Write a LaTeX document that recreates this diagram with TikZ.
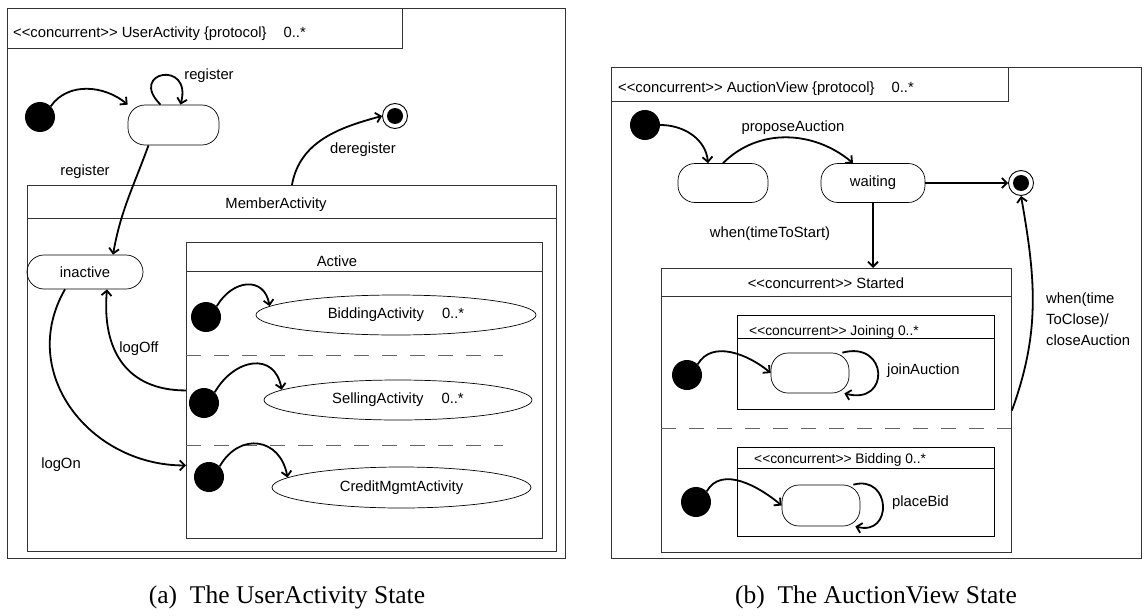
\documentclass[tikz,border=0pt]{standalone}
\usepackage{fontspec}
\newfontfamily\umlfont{Liberation Sans}
\newfontfamily\capfont{Liberation Serif}
\usetikzlibrary{arrows.meta,shapes.geometric,positioning}

\begin{document}
\begin{tikzpicture}[
	x=1pt, y=-1pt,
	every node/.style={font=\umlfont\fontsize{14.8}{17}\selectfont},
	compbox/.style={draw=black!80, line width=0.9pt, inner sep=0pt},
	simple/.style={draw, line width=0.7pt, rounded corners=17pt, inner sep=0pt},
	activity/.style={ellipse, draw, line width=0.7pt, inner sep=0pt},
	startdot/.style={circle, fill=black, minimum size=30pt, inner sep=0pt},
	enddot/.style={circle, draw, line width=0.9pt, fill=white,
		minimum size=25pt, inner sep=0pt,
		path picture={\fill[black] (path picture bounding box.center) circle (8pt);}},
	trans/.style={line width=1.8pt, -{Straight Barb[length=5pt,width=10pt]}},
	region/.style={draw=black!60, line width=0.9pt, dash pattern=on 15pt off 13pt},
	lbl/.style={inner sep=1pt},
	subtitle/.style={lbl, font=\umlfont\fontsize{13.8}{16}\selectfont},
	subcap/.style={font=\capfont\fontsize{25.5}{30}\selectfont}
]
\useasboundingbox (0,0) rectangle (1147,615);

% UserActivity box
\node[compbox, anchor=north west, minimum width=558, minimum height=550] (ua) at (7,8) {};
\node[compbox, anchor=north west, minimum width=395, minimum height=40] (uatitle) at (7,8) {};
\node[lbl, anchor=base west] (uaname) at (12,38)
	{<{}<concurrent>{}> UserActivity \{protocol\}\hspace{17pt}0..*};

\node[startdot] (ui) at (40,117) {};
\node[simple, minimum width=91, minimum height=40] (unreg) at (173.5,125) {};
\node[enddot] (uf) at (395,116) {};

% MemberActivity box
\node[compbox, anchor=north west, minimum width=529, minimum height=366] (ma) at (27,185) {};
\draw[compbox] ([yshift=-33pt]ma.north west) -- ([yshift=-33pt]ma.north east);
\node[lbl] (maname) at (276,205) {MemberActivity};
\node[simple, minimum width=116, minimum height=34] (inact) at (85,272) {inactive};

% Active box
\node[compbox, anchor=north west, minimum width=356, minimum height=296] (act) at (186,242) {};
\draw[compbox] ([yshift=-29pt]act.north west) -- ([yshift=-29pt]act.north east);
\node[lbl] (actname) at (337,261) {Active};
\coordinate (d1) at (503,355);
\coordinate (d2) at (503,445);
\draw[region] (act.west |- d1) -- (d1);
\draw[region] (act.west |- d2) -- (d2);

\node[startdot] (bidi) at (206,317) {};
\node[activity, minimum width=280, minimum height=40] (bid) at (396,315)
	{BiddingActivity\hspace{18pt}0..*};
\node[startdot] (selli) at (204,403) {};
\node[activity, minimum width=268, minimum height=40] (sell) at (398,400)
	{SellingActivity\hspace{18pt}0..*};
\node[startdot] (credi) at (209,477) {};
\node[activity, minimum width=259, minimum height=41] (cred) at (401.5,487.5)
	{CreditMgmtActivity};

% transitions (a)
\draw[trans] (ui.north east) to[out=55,in=140] (unreg.north west);
\draw[trans] ([xshift=-13pt]unreg.north) to[out=135,in=75,looseness=6] ([xshift=7pt]unreg.north);
\draw[trans] ([xshift=-25pt]unreg.south) to[out=-110,in=80] ([xshift=28pt]inact.north);
\draw[trans] (ma.north) to[out=80,in=195] (uf.west);
\draw[trans] (act.west) to[out=180,in=-95,looseness=1.2] ([xshift=22pt]inact.south);
\draw[trans] ([xshift=-20pt]inact.south) to[out=-120,in=180,looseness=1.15] ([yshift=-75pt]act.west);
\draw[trans] (bidi.north east) to[out=60,in=100,looseness=1.5] (bid.176);
\draw[trans] (selli.north east) to[out=60,in=100,looseness=1.5] (sell.175);
\draw[trans] (credi.north east) to[out=60,in=100,looseness=1.5] (cred.175);

\node[lbl] (regloop) at (209,76) {register};
\node[lbl] (reg) at (85,172) {register};
\node[lbl] (dereg) at (363,150) {deregister};
\node[lbl] (logoff) at (139,349) {logOff};
\node[lbl] (logon) at (61,465) {logOn};

% AuctionView box
\node[compbox, anchor=north west, minimum width=530, minimum height=491] (av) at (611,67) {};
\node[compbox, anchor=north west, minimum width=397, minimum height=34] (avtitle) at (611,67) {};
\node[lbl, anchor=base west] (avname) at (617,93)
	{<{}<concurrent>{}> AuctionView \{protocol\}\hspace{17pt}0..*};

\node[startdot] (avi) at (645,125) {};
\node[simple, minimum width=90, minimum height=39] (newauc) at (723,183) {};
\node[simple, minimum width=104, minimum height=39] (wait) at (873,183) {waiting};
\node[enddot] (avf) at (1021,183) {};

% Started box
\node[compbox, anchor=north west, minimum width=350, minimum height=284] (st) at (661,268) {};
\draw[compbox] ([yshift=-28pt]st.north west) -- ([yshift=-28pt]st.north east);
\node[lbl] (stname) at (826,283) {<{}<concurrent>{}> Started};
\coordinate (d3) at (1011,428);
\draw[region] (st.west |- d3) -- (d3);

% Joining box
\node[compbox, draw=black, anchor=north west, minimum width=257, minimum height=94] (join) at (737,315) {};
\draw[compbox, draw=black] ([yshift=-23pt]join.north west) -- ([yshift=-23pt]join.north east);
\node[subtitle, anchor=base west] (joinname) at (748,335) {<{}<concurrent>{}> Joining 0..*};
\node[startdot] (ji) at (687,375) {};
\node[simple, minimum width=78, minimum height=40] (js) at (810,373) {};
\node[lbl, anchor=west] (jlbl) at (886,371) {joinAuction};

% Bidding box
\node[compbox, draw=black, anchor=north west, minimum width=257, minimum height=89] (bidg) at (737,447) {};
\draw[compbox, draw=black] ([yshift=-21pt]bidg.north west) -- ([yshift=-21pt]bidg.north east);
\node[subtitle, anchor=base west] (bidgname) at (753,463) {<{}<concurrent>{}> Bidding 0..*};
\node[startdot] (bgi) at (696,502) {};
\node[simple, minimum width=78, minimum height=41] (bgs) at (821,505.5) {};
\node[lbl, anchor=west] (blbl) at (891,503) {placeBid};

% transitions (b)
\draw[trans] (avi.east) to[out=0,in=95] ([xshift=-15pt]newauc.north);
\draw[trans] (newauc.north) to[out=45,in=140] ([xshift=-20pt]wait.north);
\draw[trans] (wait.east) -- (avf.west);
\draw[trans] (wait.south) -- (wait.south |- st.north);
\draw[trans] (st.east) to[out=70,in=-80] (avf.south);
\draw[trans] (ji.north east) to[out=60,in=140] (js.west);
\draw[trans] ([xshift=-7pt]js.north east) to[out=15,in=-15,looseness=3] ([xshift=-5pt]js.south east);
\draw[trans] (bgi.north east) to[out=60,in=140] (bgs.west);
\draw[trans] ([xshift=-7pt]bgs.north east) to[out=15,in=-15,looseness=2.4] ([xshift=-5pt]bgs.south east);

\node[lbl] (propose) at (793,128) {proposeAuction};
\node[lbl] (tostart) at (770,234) {when(timeToStart)};
\node[lbl, anchor=west, align=left, font=\umlfont\fontsize{14.8}{21}\selectfont] (toclose) at (1045,319)
	{when(time\\ToClose)/\\closeAuction};

% captions
\node[subcap] (capa) at (287,597) {(a)\hspace{0.5em}The UserActivity State};
\node[subcap] (capb) at (876,597) {(b)\hspace{0.5em}The AuctionView State};

\end{tikzpicture}
\end{document}
